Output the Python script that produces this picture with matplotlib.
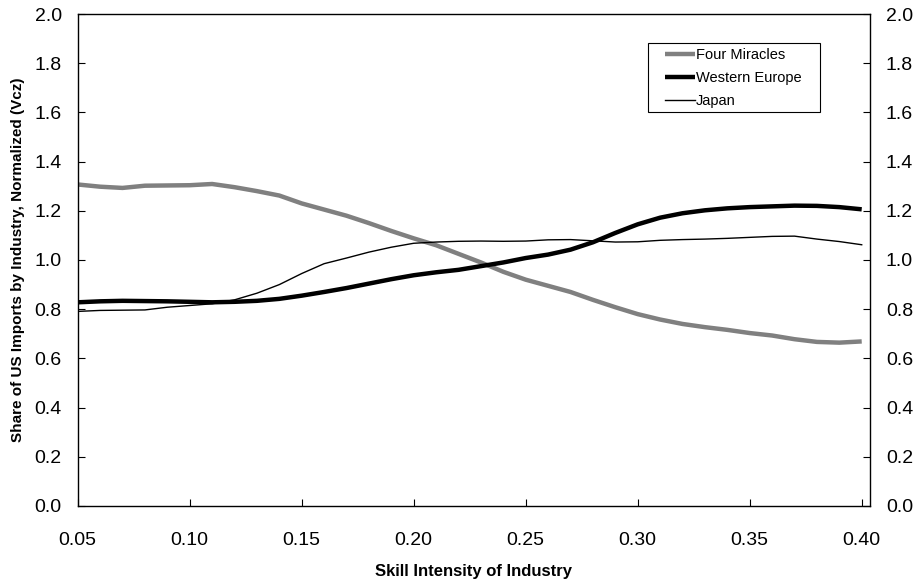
import matplotlib
matplotlib.use("Agg")
import matplotlib.pyplot as plt
from matplotlib.patches import Rectangle

plt.rcParams['font.family'] = ['Liberation Sans', 'DejaVu Sans']

skill = [0.05, 0.06, 0.07, 0.08, 0.09, 0.10, 0.11, 0.12, 0.13, 0.14, 0.15, 0.16,
         0.17, 0.18, 0.19, 0.20, 0.21, 0.22, 0.23, 0.24, 0.25, 0.26, 0.27, 0.28,
         0.29, 0.30, 0.31, 0.32, 0.33, 0.34, 0.35, 0.36, 0.37, 0.38, 0.39, 0.40]

four_miracles = [1.307, 1.298, 1.293, 1.302, 1.303, 1.304, 1.309, 1.296, 1.280, 1.262,
                 1.230, 1.205, 1.180, 1.150, 1.118, 1.088, 1.060, 1.025, 0.990, 0.952,
                 0.920, 0.895, 0.870, 0.838, 0.808, 0.780, 0.758, 0.740, 0.727, 0.716,
                 0.703, 0.693, 0.678, 0.667, 0.664, 0.669]

western_europe = [0.828, 0.832, 0.834, 0.833, 0.832, 0.830, 0.828, 0.830, 0.834, 0.842,
                  0.855, 0.870, 0.886, 0.904, 0.922, 0.938, 0.950, 0.960, 0.975, 0.990,
                  1.008, 1.022, 1.042, 1.072, 1.110, 1.145, 1.172, 1.190, 1.202, 1.210,
                  1.215, 1.218, 1.221, 1.220, 1.215, 1.206]

japan = [0.791, 0.795, 0.796, 0.797, 0.808, 0.815, 0.822, 0.838, 0.865, 0.900,
         0.945, 0.985, 1.008, 1.032, 1.052, 1.068, 1.073, 1.076, 1.077, 1.076,
         1.077, 1.082, 1.083, 1.078, 1.073, 1.074, 1.080, 1.083, 1.085, 1.088,
         1.092, 1.096, 1.097, 1.085, 1.075, 1.062]

x_ticks = [0.05, 0.10, 0.15, 0.20, 0.25, 0.30, 0.35, 0.40]
y_ticks = [0.0, 0.2, 0.4, 0.6, 0.8, 1.0, 1.2, 1.4, 1.6, 1.8, 2.0]

fig = plt.figure(figsize=(9.22, 5.84), dpi=100)
ax = fig.add_axes([0.0843, 0.1336, 0.8593, 0.8424])

ax.plot(skill, four_miracles, color='#808080', lw=3.2, label='Four Miracles', solid_capstyle='butt')
ax.plot(skill, western_europe, color='black', lw=3.2, label='Western Europe', solid_capstyle='butt')
ax.plot(skill, japan, color='black', lw=1.0, label='Japan')

ax.set_xlim(0.05, 0.4037)
ax.set_ylim(0, 2.0)
ax.set_xticks(x_ticks)
ax.set_xticklabels([f"{t:.2f}" for t in x_ticks])
ax.set_yticks(y_ticks)
ax.set_yticklabels([f"{t:.1f}" for t in y_ticks])
ax.tick_params(direction='in', length=5, labelsize=14, right=True, labelright=True)
ax.tick_params(axis='y', pad=11.5)
ax.tick_params(axis='x', pad=18.5)

for s in ax.spines.values():
    s.set_linewidth(1.0)

ax.set_xlabel("Skill Intensity of Industry", fontsize=12, fontweight='bold', labelpad=11)
ax.set_ylabel("Share of US Imports by Industry, Normalized (Vcz)", fontsize=11, fontweight='bold', labelpad=7)

# legend frame drawn separately to get Excel-like padding
ax.add_patch(Rectangle((0.7198, 0.8008), 0.2171, 0.1402, transform=ax.transAxes,
                       facecolor='white', edgecolor='black', lw=0.8, zorder=4))
leg = ax.legend(loc='upper left', bbox_to_anchor=(0.741, 0.9315), fontsize=10.5, frameon=False,
                handlelength=2.05, handletextpad=0.1, labelspacing=0.62, borderpad=0,
                borderaxespad=0)
leg.set_zorder(5)

plt.savefig("out.png", dpi=100)
